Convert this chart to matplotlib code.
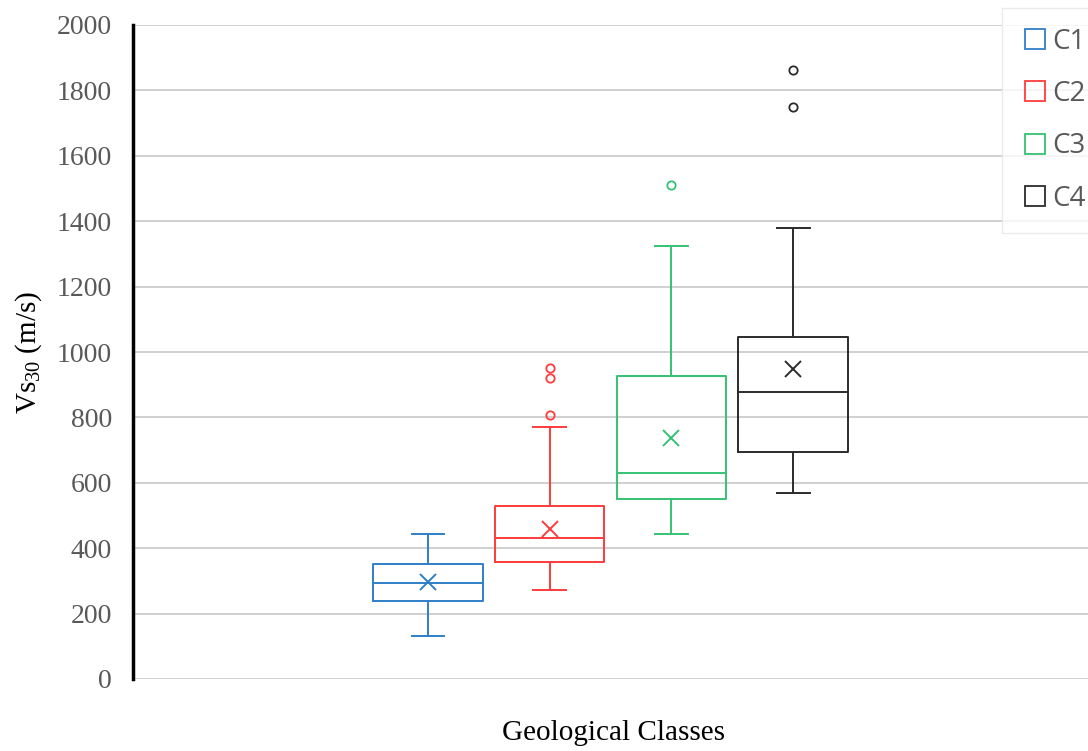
import numpy as np
import matplotlib
matplotlib.use('Agg')
import matplotlib.pyplot as plt
from matplotlib.lines import Line2D

# box statistics (m/s)
classes = ['C1', 'C2', 'C3', 'C4']
colors = ['#2f7fc6', '#ff3b3b', '#35c173', '#2b2b2b']
q1 = [238, 358, 550, 695]
median = [294, 431, 629, 878]
q3 = [352, 529, 927, 1045]
whisker_low = [132, 272, 444, 570]
whisker_high = [443, 771, 1323, 1380]
means = [297, 459, 736, 947]
outliers = [[], [807, 920, 951], [1511], [1749, 1862]]

yticks = [0, 200, 400, 600, 800, 1000, 1200, 1400, 1600, 1800, 2000]

plt.rcParams['mathtext.fontset'] = 'custom'
plt.rcParams['mathtext.rm'] = 'Liberation Serif'
plt.rcParams['mathtext.it'] = 'Liberation Serif:italic'

#------------------------------------------------------------
fig = plt.figure(figsize=(10.88, 7.51), dpi=100)
ax = fig.add_axes([133 / 1088, 1 - 679 / 751, 1 - 133 / 1088, (679 - 25) / 751])

positions = np.arange(1, len(classes) + 1)
for i, name in enumerate(classes):
    stats = [dict(label=name, q1=q1[i], med=median[i], q3=q3[i],
                  whislo=whisker_low[i], whishi=whisker_high[i],
                  mean=means[i], fliers=outliers[i])]
    c = colors[i]
    ax.bxp(stats, positions=[positions[i]], widths=0.9, showmeans=True,
           boxprops=dict(color=c, linewidth=1.4),
           medianprops=dict(color=c, linewidth=1.4),
           whiskerprops=dict(color=c, linewidth=1.4),
           capprops=dict(color=c, linewidth=1.4),
           capwidths=0.27,
           meanprops=dict(marker='x', markeredgecolor=c, markersize=12, markeredgewidth=1.4),
           flierprops=dict(marker='o', markerfacecolor='none', markeredgecolor=c,
                           markersize=6, markeredgewidth=1.3))

ax.set_xlim(1 - (428 - 133) / 121.7, 1 + (1088 - 428) / 121.7)
ax.set_ylim(0, 2000)
ax.set_yticks(yticks)
ax.set_xticks([])

for lbl in ax.get_yticklabels():
    lbl.set_fontfamily('Liberation Serif')
    lbl.set_fontsize(20)
    lbl.set_color('#595959')
ax.tick_params(axis='y', length=0, pad=15)

ax.grid(axis='y', color='#c8c8c8', linewidth=1.2)
ax.set_axisbelow(True)
for side in ['top', 'right', 'bottom']:
    ax.spines[side].set_visible(False)
ax.spines['left'].set_linewidth(2.5)
ax.spines['left'].set_color('black')

ax.set_ylabel(r'Vs$_{\mathrm{30}}$ (m/s)', fontfamily='Liberation Serif', fontsize=21, labelpad=9)
fig.text(614 / 1088, 1 - 733 / 751, 'Geological Classes', ha='center', va='center',
         fontfamily='Liberation Serif', fontsize=21)

handles = [Line2D([], [], linestyle='none', marker='s', markersize=14.5,
                  markerfacecolor='none', markeredgecolor=c, markeredgewidth=1.3)
           for c in colors]
leg = fig.legend(handles, classes, loc='upper left', bbox_to_anchor=(1002 / 1088, 1 - 8 / 751),
                 borderaxespad=0, frameon=True, fancybox=False, edgecolor='#e6e6e6',
                 labelspacing=0.87, handlelength=0.94, handletextpad=0.15, borderpad=0.72,
                 prop=dict(family='Open Sans', size=20))
leg.get_frame().set_linewidth(1.0)
for t in leg.get_texts():
    t.set_color('#595959')

fig.savefig('out.png', dpi=100)
